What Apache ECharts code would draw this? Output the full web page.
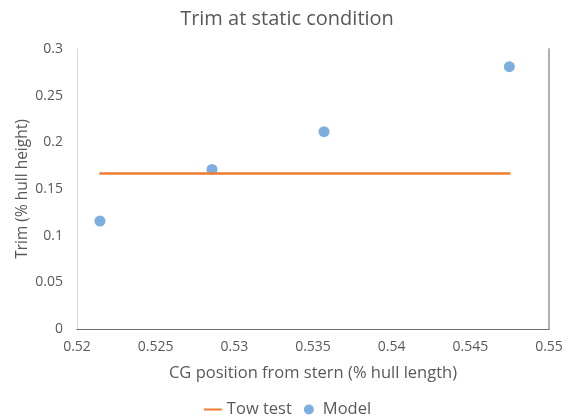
<!DOCTYPE html>
<html><head><meta charset="utf-8">
<script src="https://cdn.jsdelivr.net/npm/echarts@6/dist/echarts.min.js"></script>
<style>html,body{margin:0;padding:0;background:#fff}#c{width:574px;height:419px}</style>
</head><body><div id="c"></div>
<script>
const towTestX = [0.52142, 0.54755];
const towTestY = [0.1667, 0.1667];
const modelX = [0.52146, 0.52858, 0.5357, 0.54748];
const modelY = [0.1157, 0.171, 0.2114, 0.281];
const xTicks = {min: 0.52, max: 0.55, interval: 0.005};
const yTicks = {min: 0, max: 0.3, interval: 0.05};

const font = '"Open Sans", sans-serif';
const grey = '#595959';
const chart = echarts.init(document.getElementById('c'), null, {renderer: 'canvas'});
chart.setOption({
  animation: false,
  textStyle: {fontFamily: font},
  title: {text: 'Trim at static condition', left: 'center', top: 4,
    textStyle: {fontFamily: font, fontSize: 20, fontWeight: 'normal', color: grey}},
  grid: {left: 77, right: 25, top: 49, bottom: 90},
  legend: {top: 396, left: 'center', itemGap: 12, itemWidth: 18, itemHeight: 10,
    textStyle: {fontFamily: font, fontSize: 16.5, color: grey},
    data: [{name: 'Tow test', itemStyle: {opacity: 0}}, {name: 'Model', icon: 'circle'}]},
  xAxis: [{type: 'value', min: xTicks.min, max: xTicks.max, interval: xTicks.interval,
    name: 'CG position from stern (% hull length)', nameLocation: 'middle', nameGap: 36,
    nameTextStyle: {fontSize: 16.5, color: grey, fontFamily: font},
    axisLine: {show: true, lineStyle: {color: '#d9d9d9'}}, axisTick: {show: false},
    splitLine: {show: false},
    axisLabel: {fontSize: 14, color: grey, margin: 11, fontFamily: font,
      formatter: v => String(+v.toFixed(3))}},
   {type: 'value', position: 'top', min: xTicks.min, max: xTicks.max,
    axisLine: {show: true, lineStyle: {color: '#6e6e6e'}}, axisTick: {show: false},
    axisLabel: {show: false}, splitLine: {show: false}}],
  yAxis: [{type: 'value', min: yTicks.min, max: yTicks.max, interval: yTicks.interval,
    name: 'Trim (% hull height)', nameLocation: 'middle', nameGap: 46, nameMoveOverlap: false,
    nameTextStyle: {fontSize: 15.5, color: grey, fontFamily: font},
    axisLine: {show: true, lineStyle: {color: '#d9d9d9'}}, axisTick: {show: false},
    splitLine: {show: false},
    axisLabel: {fontSize: 14, color: grey, margin: 14, fontFamily: font,
      formatter: v => String(+v.toFixed(2))}},
   {type: 'value', position: 'right', min: yTicks.min, max: yTicks.max,
    axisLine: {show: true, lineStyle: {color: '#b0b0b0', width: 2}}, axisTick: {show: false},
    axisLabel: {show: false}, splitLine: {show: false}}],
  series: [
    {name: 'Tow test', type: 'line', symbol: 'none',
     lineStyle: {color: '#ED7D31', width: 2.5}, itemStyle: {color: '#ED7D31'},
     data: towTestX.map((x, i) => [x, towTestY[i]])},
    {name: 'Model', type: 'scatter', symbol: 'circle', symbolSize: 11,
     itemStyle: {color: '#5B9BD5'},
     data: modelX.map((x, i) => [x, modelY[i]])}
  ]
});
</script></body></html>
